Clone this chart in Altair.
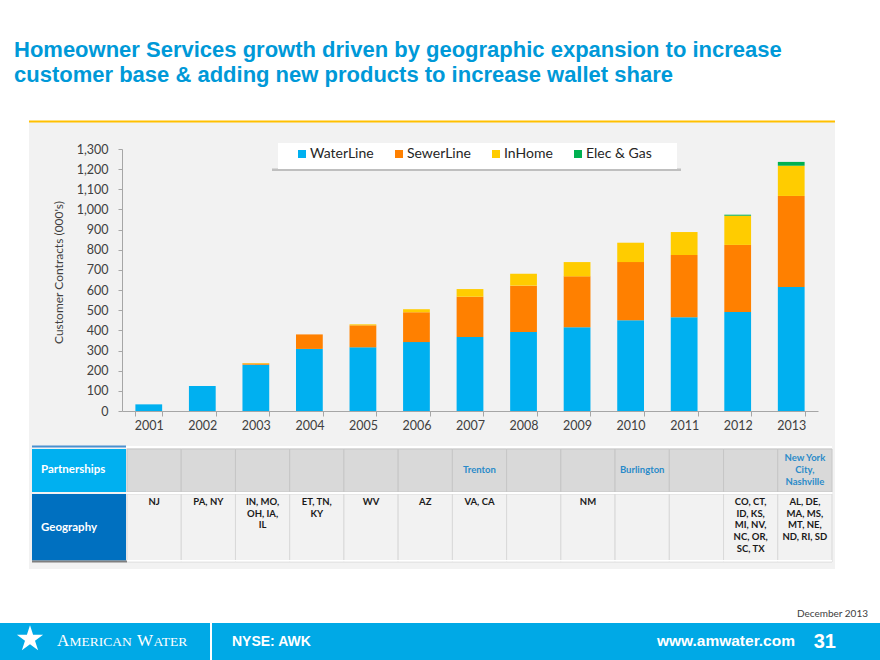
import altair as alt
import pandas as pd

# ---------------- data ----------------
years = [str(y) for y in range(2001, 2014)]
waterline = [33, 124, 230, 308, 316, 342, 367, 392, 415, 450, 465, 491, 615]
sewerline = [0, 0, 6, 72, 109, 148, 200, 230, 253, 289, 309, 333, 452]
inhome = [0, 0, 2, 0, 5, 15, 38, 59, 71, 96, 114, 145, 150]
elecgas = [0, 0, 0, 0, 0, 0, 0, 0, 0, 0, 0, 5, 19]
series = ["WaterLine", "SewerLine", "InHome", "Elec & Gas"]
series_colors = ["#00B0F0", "#FF8000", "#FFCC00", "#00B050"]
y_ticks = list(range(0, 1301, 100))

partnerships = ["", "", "", "", "", "", "Trenton", "", "", "Burlington", "", "",
                "New York\nCity,\nNashville"]
geography = ["NJ", "PA, NY", "IN, MO,\nOH, IA,\nIL", "ET, TN,\nKY", "WV", "AZ",
             "VA, CA", "", "NM", "", "",
             "CO, CT,\nID, KS,\nMI, NV,\nNC, OR,\nSC,  TX",
             "AL, DE,\nMA, MS,\nMT, NE,\nND, RI, SD"]
row_labels = ["Partnerships", "Geography"]

title_lines = ["Homeowner Services growth driven by geographic expansion to increase",
               "customer base & adding new products to increase wallet share"]

# ---------------- layout ----------------
OX, OY = 122, 149          # plot origin in page pixels
W, H = 696, 262            # plot area
FONT = "Lato"
P_LINE = 12                # line height of partnership texts

rows = []
for i, yr in enumerate(years):
    for k, (s, vals) in enumerate(zip(series, [waterline, sewerline, inhome, elecgas])):
        if vals[i] > 0:
            rows.append({"year": yr, "series": s, "value": vals[i], "order": k})
df = pd.DataFrame(rows)

tbl = pd.DataFrame({
    "year": years,
    "c0": list(range(13)),
    "c1": list(range(1, 14)),
    "cm": [i + 0.5 for i in range(13)],
    "p": partnerships,
    "g": geography,
})
# vertical centring of multi-line partnership texts
tbl["py"] = [470 - OY - (p.count("\n")) * P_LINE / 2 for p in partnerships]

one = pd.DataFrame({"k": [0]})


def rect(x1, y1, x2, y2, color):
    return alt.Chart(one).mark_rect(color=color).encode(
        x=alt.value(x1 - OX), x2=alt.value(x2 - OX),
        y=alt.value(y1 - OY), y2=alt.value(y2 - OY))


def label(txt, x, y, **kw):
    return alt.Chart(one).mark_text(text=txt, **kw).encode(
        x=alt.value(x - OX), y=alt.value(y - OY))


# background panel
panel = rect(29, 121, 835, 569, "#F2F2F2")
gold = rect(29, 120.5, 835, 122.5, "#FFC000")
leg_shadow = rect(272, 168.5, 681, 171, "#BFBFBF")
leg_bg = rect(278, 143, 677, 169, "#FFFFFF")

bars = alt.Chart(df).mark_bar().encode(
    x=alt.X("year:O", sort=years,
            scale=alt.Scale(paddingInner=0.5, paddingOuter=0.25),
            axis=alt.Axis(title=None, labelAngle=0, tickBand="extent", zindex=1,
                          domainColor="#A6A6A6", tickColor="#A6A6A6", tickSize=5,
                          labelFontSize=12.5, labelColor="#404040", labelFont=FONT,
                          labelPadding=3)),
    y=alt.Y("value:Q", stack="zero",
            scale=alt.Scale(domain=[0, 1300], nice=False),
            axis=alt.Axis(values=y_ticks, format=",.0f", grid=False, zindex=1,
                          domainColor="#A6A6A6", tickColor="#A6A6A6", tickSize=4,
                          labelFontSize=12.5, labelColor="#404040", labelFont=FONT,
                          labelPadding=10,
                          title="Customer Contracts (000's)", titleFont=FONT,
                          titleFontSize=12, titleFontWeight="normal",
                          titleColor="#404040", titleX=-64, titleY=123,
                          titleAngle=270, titleAlign="center",
                          titleBaseline="middle")),
    color=alt.Color("series:N", sort=series,
                    scale=alt.Scale(domain=series, range=series_colors),
                    legend=alt.Legend(title=None, orient="none", legendX=173,
                                      legendY=-2, direction="horizontal",
                                      columns=4, symbolType="square",
                                      symbolSize=64, symbolStrokeWidth=0,
                                      labelFontSize=14, labelFont=FONT,
                                      labelColor="#262626", columnPadding=18,
                                      labelOffset=1, padding=0)),
    order=alt.Order("order:Q", sort="ascending"),
)

# ---------------- table ----------------
tscale = alt.Scale(domain=[0, 13], range=[127 - OX, 832 - OX], nice=False, zero=False)

cells_p = alt.Chart(tbl).mark_rect(fill="#D9D9D9", stroke="#C6C6C6", strokeWidth=1).encode(
    x=alt.X("c0:Q", scale=tscale, axis=None), x2="c1:Q",
    y=alt.value(449 - OY), y2=alt.value(492 - OY))
cells_g = alt.Chart(tbl).mark_rect(fill="#F2F2F2", stroke="#D9D9D9", strokeWidth=1).encode(
    x=alt.X("c0:Q", scale=tscale, axis=None), x2="c1:Q",
    y=alt.value(494 - OY), y2=alt.value(562 - OY))

text_p = alt.Chart(tbl).mark_text(align="center", baseline="middle", lineBreak="\n",
                                  lineHeight=P_LINE, fontSize=9.5, fontWeight="bold",
                                  color="#2A8BC9", font=FONT).encode(
    x=alt.X("cm:Q", scale=tscale, axis=None),
    y=alt.Y("py:Q", scale=None, axis=None), text="p:N")
text_g = alt.Chart(tbl).mark_text(align="center", baseline="top", lineBreak="\n",
                                  lineHeight=11.7, fontSize=9.5, fontWeight="bold",
                                  color="#1A1A1A", font=FONT).encode(
    x=alt.X("cm:Q", scale=tscale, axis=None), y=alt.value(497 - OY), text="g:N")

tbl_top_blue = rect(32, 445.5, 126, 447.5, "#4A90D0")
tbl_top_white = rect(126, 446, 832, 448, "#FFFFFF")
tbl_mid_white = rect(126, 492, 832, 494, "#FFFFFF")
tbl_bot_white = rect(126, 560, 832, 561.5, "#FFFFFF")
lab_p = rect(32, 449, 126, 492, "#00B0F0")
lab_g = rect(32, 494, 126, 560.5, "#0070C0")
lab_shadow = rect(32, 560.5, 127, 562.5, "#7F7F7F")
lab_p_txt = label(row_labels[0], 41, 470, align="left", baseline="middle", font=FONT,
                  fontSize=11.5, fontWeight="bold", color="white")
lab_g_txt = label(row_labels[1], 41, 528, align="left", baseline="middle", font=FONT,
                  fontSize=11.5, fontWeight="bold", color="white")

# ---------------- title ----------------
t1 = label(title_lines[0], 14, 57, align="left", baseline="alphabetic",
           font="Liberation Sans", fontSize=22, fontWeight="bold", color="#0099D8")
t2 = label(title_lines[1], 14, 82, align="left", baseline="alphabetic",
           font="Liberation Sans", fontSize=22, fontWeight="bold", color="#0099D8")

# ---------------- footer ----------------
STAR = ("M0,-1 L0.2245,-0.309 L0.951,-0.309 L0.363,0.118 L0.588,0.809 "
        "L0,0.382 L-0.588,0.809 L-0.363,0.118 L-0.951,-0.309 L-0.2245,-0.309 Z")
footer_bar = rect(0, 623, 880, 660, "#00A9E6")
footer_sep = rect(210, 623, 212, 660, "#FFFFFF")
star = alt.Chart(one).mark_point(shape=STAR, filled=True, color="white", opacity=1,
                                 size=760).encode(x=alt.value(30 - OX), y=alt.value(639 - OY))
aw1 = label("A", 57, 646, align="left", baseline="alphabetic", font="Liberation Serif",
            fontSize=17, color="white")
aw2 = label("MERICAN", 69.5, 646, align="left", baseline="alphabetic",
            font="Liberation Serif", fontSize=13.5, color="white")
aw3 = label("W", 137, 646, align="left", baseline="alphabetic", font="Liberation Serif",
            fontSize=17, color="white")
aw4 = label("ATER", 153.5, 646, align="left", baseline="alphabetic",
            font="Liberation Serif", fontSize=13.5, color="white")
nyse = label("NYSE: AWK", 232, 646, align="left", baseline="alphabetic",
             font="Liberation Sans", fontSize=14, fontWeight="bold", color="white")
www = label("www.amwater.com", 795, 646, align="right", baseline="alphabetic",
            font="Liberation Sans", fontSize=15.5, fontWeight="bold", color="white")
page = label("31", 836, 648, align="right", baseline="alphabetic",
             font="Liberation Sans", fontSize=20, fontWeight="bold", color="white")
date = label("December 2013", 868, 617, align="right", baseline="alphabetic",
             font=FONT, fontSize=10, color="#404040")

chart = alt.layer(
    panel, gold, leg_shadow, leg_bg, bars,
    cells_p, cells_g, tbl_top_blue, tbl_top_white, tbl_mid_white, tbl_bot_white,
    lab_p, lab_g, lab_shadow, lab_p_txt, lab_g_txt, text_p, text_g,
    t1, t2,
    footer_bar, footer_sep, star, aw1, aw2, aw3, aw4, nyse, www, page, date,
).resolve_scale(
    x="independent", y="independent"
).properties(
    width=W, height=H,
    padding={"left": OX, "top": OY, "right": 880 - OX - W, "bottom": 660 - OY - H},
    autosize=alt.AutoSizeParams(type="none"),
    background="white",
).configure_view(stroke=None)

chart.save("out.html", embed_options={"renderer": "svg", "actions": False})
